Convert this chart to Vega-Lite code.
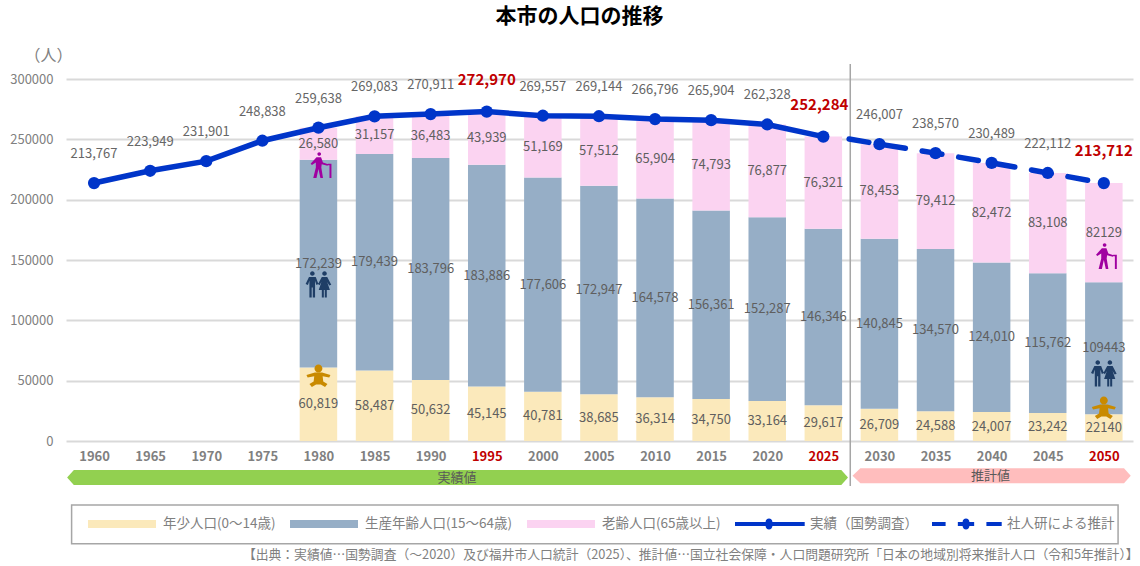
{
"$schema":"https://vega.github.io/schema/vega-lite/v6.json",
"autosize":{"type":"none"},
"padding":{"left":66,"top":79,"right":7,"bottom":125},
"width":1067,"height":362,
"background":"white",
"config":{"font":"Noto Sans CJK JP","view":{"stroke":null}},
"title":{"text":"本市の人口の推移","fontSize":21,"fontWeight":"bold","anchor":"middle","dx":-20,"offset":20,"color":"#000000"},
"datasets":{
"segments":[
{"year":1980,"series":"年少人口(0～14歳)","rank":1,"value":60819,"label":"60,819"},
{"year":1980,"series":"生産年齢人口(15～64歳)","rank":2,"value":172239,"label":"172,239"},
{"year":1980,"series":"老齢人口(65歳以上)","rank":3,"value":26580,"label":"26,580"},
{"year":1985,"series":"年少人口(0～14歳)","rank":1,"value":58487,"label":"58,487"},
{"year":1985,"series":"生産年齢人口(15～64歳)","rank":2,"value":179439,"label":"179,439"},
{"year":1985,"series":"老齢人口(65歳以上)","rank":3,"value":31157,"label":"31,157"},
{"year":1990,"series":"年少人口(0～14歳)","rank":1,"value":50632,"label":"50,632"},
{"year":1990,"series":"生産年齢人口(15～64歳)","rank":2,"value":183796,"label":"183,796"},
{"year":1990,"series":"老齢人口(65歳以上)","rank":3,"value":36483,"label":"36,483"},
{"year":1995,"series":"年少人口(0～14歳)","rank":1,"value":45145,"label":"45,145"},
{"year":1995,"series":"生産年齢人口(15～64歳)","rank":2,"value":183886,"label":"183,886"},
{"year":1995,"series":"老齢人口(65歳以上)","rank":3,"value":43939,"label":"43,939"},
{"year":2000,"series":"年少人口(0～14歳)","rank":1,"value":40781,"label":"40,781"},
{"year":2000,"series":"生産年齢人口(15～64歳)","rank":2,"value":177606,"label":"177,606"},
{"year":2000,"series":"老齢人口(65歳以上)","rank":3,"value":51169,"label":"51,169"},
{"year":2005,"series":"年少人口(0～14歳)","rank":1,"value":38685,"label":"38,685"},
{"year":2005,"series":"生産年齢人口(15～64歳)","rank":2,"value":172947,"label":"172,947"},
{"year":2005,"series":"老齢人口(65歳以上)","rank":3,"value":57512,"label":"57,512"},
{"year":2010,"series":"年少人口(0～14歳)","rank":1,"value":36314,"label":"36,314"},
{"year":2010,"series":"生産年齢人口(15～64歳)","rank":2,"value":164578,"label":"164,578"},
{"year":2010,"series":"老齢人口(65歳以上)","rank":3,"value":65904,"label":"65,904"},
{"year":2015,"series":"年少人口(0～14歳)","rank":1,"value":34750,"label":"34,750"},
{"year":2015,"series":"生産年齢人口(15～64歳)","rank":2,"value":156361,"label":"156,361"},
{"year":2015,"series":"老齢人口(65歳以上)","rank":3,"value":74793,"label":"74,793"},
{"year":2020,"series":"年少人口(0～14歳)","rank":1,"value":33164,"label":"33,164"},
{"year":2020,"series":"生産年齢人口(15～64歳)","rank":2,"value":152287,"label":"152,287"},
{"year":2020,"series":"老齢人口(65歳以上)","rank":3,"value":76877,"label":"76,877"},
{"year":2025,"series":"年少人口(0～14歳)","rank":1,"value":29617,"label":"29,617"},
{"year":2025,"series":"生産年齢人口(15～64歳)","rank":2,"value":146346,"label":"146,346"},
{"year":2025,"series":"老齢人口(65歳以上)","rank":3,"value":76321,"label":"76,321"},
{"year":2030,"series":"年少人口(0～14歳)","rank":1,"value":26709,"label":"26,709"},
{"year":2030,"series":"生産年齢人口(15～64歳)","rank":2,"value":140845,"label":"140,845"},
{"year":2030,"series":"老齢人口(65歳以上)","rank":3,"value":78453,"label":"78,453"},
{"year":2035,"series":"年少人口(0～14歳)","rank":1,"value":24588,"label":"24,588"},
{"year":2035,"series":"生産年齢人口(15～64歳)","rank":2,"value":134570,"label":"134,570"},
{"year":2035,"series":"老齢人口(65歳以上)","rank":3,"value":79412,"label":"79,412"},
{"year":2040,"series":"年少人口(0～14歳)","rank":1,"value":24007,"label":"24,007"},
{"year":2040,"series":"生産年齢人口(15～64歳)","rank":2,"value":124010,"label":"124,010"},
{"year":2040,"series":"老齢人口(65歳以上)","rank":3,"value":82472,"label":"82,472"},
{"year":2045,"series":"年少人口(0～14歳)","rank":1,"value":23242,"label":"23,242"},
{"year":2045,"series":"生産年齢人口(15～64歳)","rank":2,"value":115762,"label":"115,762"},
{"year":2045,"series":"老齢人口(65歳以上)","rank":3,"value":83108,"label":"83,108"},
{"year":2050,"series":"年少人口(0～14歳)","rank":1,"value":22140,"label":"22140"},
{"year":2050,"series":"生産年齢人口(15～64歳)","rank":2,"value":109443,"label":"109443"},
{"year":2050,"series":"老齢人口(65歳以上)","rank":3,"value":82129,"label":"82129"}
],
"totals":[
{"year":1960,"total":213767,"label":"213,767"},
{"year":1965,"total":223949,"label":"223,949"},
{"year":1970,"total":231901,"label":"231,901"},
{"year":1975,"total":248838,"label":"248,838"},
{"year":1980,"total":259638,"label":"259,638"},
{"year":1985,"total":269083,"label":"269,083"},
{"year":1990,"total":270911,"label":"270,911"},
{"year":1995,"total":272970,"label":"272,970"},
{"year":2000,"total":269557,"label":"269,557"},
{"year":2005,"total":269144,"label":"269,144"},
{"year":2010,"total":266796,"label":"266,796"},
{"year":2015,"total":265904,"label":"265,904"},
{"year":2020,"total":262328,"label":"262,328"},
{"year":2025,"total":252284,"label":"252,284"},
{"year":2027.3,"total":250280,"label":""},
{"year":2030,"total":246007,"label":"246,007"},
{"year":2035,"total":238570,"label":"238,570"},
{"year":2040,"total":230489,"label":"230,489"},
{"year":2045,"total":222112,"label":"222,112"},
{"year":2050,"total":213712,"label":"213,712"}
]
},
"encoding":{"x":{"field":"year","type":"quantitative","title":null,"scale":{"domain":[1957.5,2052.6],"nice":false,"zero":false,"padding":0},
"axis":{"values":[1960,1965,1970,1975,1980,1985,1990,1995,2000,2005,2010,2015,2020,2025,2030,2035,2040,2045,2050],"format":"d","grid":false,"domain":false,"ticks":false,"labelPadding":9,"labelFontSize":13,"labelFontWeight":"bold","labelOverlap":false,"labelFlush":false,"labelBound":false,
"labelColor":{"expr":"indexof([1995,2025,2050],datum.value)>=0?'#c00000':'#808080'"},
"encode":{"labels":{"update":{"dx":{"signal":"datum.value==1995?4:datum.value==2025?-3:datum.value==2050?-2:0"},"dy":{"signal":"indexof([1995,2025,2050],datum.value)>=0?-2:0"}}}}}}},
"layer":[
{"data":{"name":"segments"},
"transform":[{"stack":"value","groupby":["year"],"sort":[{"field":"rank","order":"ascending"}],"as":["s0","s1"]}],
"mark":{"type":"bar","size":37.5},
"encoding":{
"y":{"field":"s0","type":"quantitative","title":"（人）","scale":{"domain":[0,300000],"nice":false},
"axis":{"values":[0,50000,100000,150000,200000,250000,300000],"format":"d","grid":true,"gridColor":"#d9d9d9","gridWidth":2,"domain":false,"ticks":false,"labelPadding":13,"labelFontSize":13,"labelColor":"#808080","titleAngle":0,"titleX":-18,"titleY":-24,"titleFontSize":16,"titleFontWeight":"normal","titleColor":"#808080","titleAlign":"center","titleBaseline":"middle"}},
"y2":{"field":"s1"},
"color":{"field":"series","type":"nominal","scale":{"domain":["年少人口(0～14歳)","生産年齢人口(15～64歳)","老齢人口(65歳以上)","実績（国勢調査）","社人研による推計"],"range":["#fbe9bb","#96aec6","#fbd3f1","#0035c9","#0035c9"]},
"legend":{"title":null,"orient":"none","legendX":22,"legendY":437,"direction":"horizontal","columns":5,"gridAlign":"each","columnPadding":14,"symbolSize":4624,"symbolStrokeWidth":0,"labelOffset":7,"labelFontSize":13.5,"labelColor":"#808080","clipHeight":16,"labelLimit":300,"padding":0,
"encode":{"symbols":{"update":{"shape":{"signal":"datum.value=='実績（国勢調査）'?'M-1.05,-0.06H-0.1A0.1,0.1 0 0 1 0.1,-0.06H1.05V0.06H0.1A0.1,0.1 0 0 1 -0.1,0.06H-1.05Z':datum.value=='社人研による推計'?'M-1.05,-0.06H-0.6V0.06H-1.05ZM-0.24,-0.06H-0.1A0.1,0.1 0 0 1 0.1,-0.06H0.24V0.06H0.1A0.1,0.1 0 0 1 -0.1,0.06H-0.24ZM0.6,-0.06H1.05V0.06H0.6Z':'M-1,-0.118H1V0.118H-1Z'"},"fill":{"scale":"color","field":"value"},"stroke":{"value":"transparent"}}}}}}
}},
{"data":{"values":[{"year":1958.0,"top":-53039,"bot":-85110,"x2year":2051.27}]},
"mark":{"type":"rect","fill":null,"stroke":"#a6a6a6","strokeWidth":1.5},
"encoding":{"x2":{"field":"x2year"},"y":{"field":"top","type":"quantitative","title":"（人）","scale":{"domain":[0,300000],"nice":false}},"y2":{"field":"bot"}}},
{"data":{"values":[{"year":1957.6,"top":-30249,"bot":-30249},{"year":1958.2,"top":-24033,"bot":-36464},{"year":2026.6,"top":-24033,"bot":-36464},{"year":2027.2,"top":-30249,"bot":-30249}]},
"mark":{"type":"area","color":"#92d050","orient":"vertical"},
"encoding":{"y":{"field":"top","type":"quantitative","title":"（人）","scale":{"domain":[0,300000],"nice":false}},"y2":{"field":"bot"}}},
{"data":{"values":[{"year":2027.6,"top":-28840,"bot":-28840},{"year":2028.3,"top":-22600,"bot":-35050},{"year":2051.8,"top":-22600,"bot":-35050},{"year":2052.4,"top":-28840,"bot":-28840}]},
"mark":{"type":"area","color":"#ffbdbd","orient":"vertical"},
"encoding":{"y":{"field":"top","type":"quantitative","title":"（人）","scale":{"domain":[0,300000],"nice":false}},"y2":{"field":"bot"}}},
{"data":{"values":[{"year":2027.4,"top":312431,"bot":-37300}]},
"mark":{"type":"rule","color":"#a6a6a6","strokeWidth":1.5},
"encoding":{"y":{"field":"top","type":"quantitative","title":"（人）","scale":{"domain":[0,300000],"nice":false}},"y2":{"field":"bot"}}},
{"data":{"name":"totals"},"transform":[{"filter":"datum.year<=2025"}],
"mark":{"type":"line","color":"#0035c9","strokeWidth":5.5},
"encoding":{"y":{"field":"total","type":"quantitative","title":"（人）","scale":{"domain":[0,300000],"nice":false}}}},
{"data":{"name":"totals"},"transform":[{"filter":"datum.year>2026"}],
"mark":{"type":"line","color":"#0035c9","strokeWidth":5.5,"strokeDash":[20,17],"strokeCap":"round"},
"encoding":{"y":{"field":"total","type":"quantitative","title":"（人）","scale":{"domain":[0,300000],"nice":false}}}},
{"data":{"name":"totals"},"transform":[{"filter":"datum.label!=''"}],
"mark":{"type":"point","filled":true,"color":"#0035c9","opacity":1,"size":150},
"encoding":{"y":{"field":"total","type":"quantitative","title":"（人）","scale":{"domain":[0,300000],"nice":false}}}},
{"data":{"name":"segments"},
"transform":[{"stack":"value","groupby":["year"],"sort":[{"field":"rank","order":"ascending"}],"as":["s0","s1"]},{"fold":["s0","s1"],"as":["edge","edgeValue"]},{"aggregate":[{"op":"mean","field":"edgeValue","as":"mid"}],"groupby":["year","label"]}],
"mark":{"type":"text","fontSize":13,"color":"#5f5f5f","baseline":"middle"},
"encoding":{"y":{"field":"mid","type":"quantitative","title":"（人）","scale":{"domain":[0,300000],"nice":false}},"text":{"field":"label"}}},
{"data":{"name":"totals"},"transform":[{"filter":"datum.label!='' && indexof([1995,2025,2050],datum.year)<0"}],
"mark":{"type":"text","fontSize":13,"color":"#666666","baseline":"middle","dy":-29},
"encoding":{"y":{"field":"total","type":"quantitative","title":"（人）","scale":{"domain":[0,300000],"nice":false}},"text":{"field":"label"}}},
{"data":{"name":"totals"},"transform":[{"filter":"datum.year==1995||datum.year==2050"}],
"mark":{"type":"text","fontSize":15,"fontWeight":"bold","color":"#c00000","baseline":"middle","dy":-32},
"encoding":{"y":{"field":"total","type":"quantitative","title":"（人）","scale":{"domain":[0,300000],"nice":false}},"text":{"field":"label"}}},
{"data":{"name":"totals"},"transform":[{"filter":"datum.year==2025"}],
"mark":{"type":"text","fontSize":15,"fontWeight":"bold","color":"#c00000","baseline":"middle","dy":-32,"dx":-4},
"encoding":{"y":{"field":"total","type":"quantitative","title":"（人）","scale":{"domain":[0,300000],"nice":false}},"text":{"field":"label"}}},
{"data":{"values":[{"year":1992.35,"pos":-31000,"note":"実績値"},{"year":2039.9,"pos":-29000,"note":"推計値"}]},
"mark":{"type":"text","fontSize":13,"color":"#595959","baseline":"middle"},
"encoding":{"y":{"field":"pos","type":"quantitative","title":"（人）","scale":{"domain":[0,300000],"nice":false}},"text":{"field":"note"}}},
{"data":{"values":[{"year":2053.1,"pos":-94470,"note":"【出典：実績値…国勢調査（～2020）及び福井市人口統計（2025）、推計値…国立社会保障・人口問題研究所「日本の地域別将来推計人口（令和5年推計）】"}]},
"mark":{"type":"text","fontSize":12.8,"color":"#808080","baseline":"middle","align":"right"},
"encoding":{"y":{"field":"pos","type":"quantitative","title":"（人）","scale":{"domain":[0,300000],"nice":false}},"text":{"field":"note"}}},
{"data":{"values":[{"year":1980,"pos":228729},{"year":2050,"pos":153315}]},
"mark":{"type":"point","filled":true,"opacity":1,"color":"#a000a0","size":676,"shape":"M0.2,-0.85A0.14,0.14 0 1 1 -0.08,-0.85A0.14,0.14 0 1 1 0.2,-0.85ZM-0.15,-0.6L0.2,-0.6L0.35,-0.2L0.75,-0.05L0.7,0.05L0.25,-0.05L0.22,0.2L0.35,1L0.15,1L0,0.3L-0.15,1L-0.4,1L-0.2,0.2L-0.2,-0.2L-0.5,0L-0.6,-0.1ZM0.72,-0.1L1,-0.1L1,1L0.85,1L0.85,0.02L0.72,0.02Z"},
"encoding":{"y":{"field":"pos","type":"quantitative","title":"（人）","scale":{"domain":[0,300000],"nice":false}}}},
{"data":{"values":[{"year":1980,"pos":130110},{"year":2050,"pos":56354}]},
"mark":{"type":"point","filled":true,"opacity":1,"color":"#1f3e66","size":729,"shape":"M-0.28,-0.78A0.17,0.17 0 1 1 -0.62,-0.78A0.17,0.17 0 1 1 -0.28,-0.78ZM-0.7,-0.52H-0.2L0,0L-0.15,0.08L-0.25,-0.25V1H-0.42V0.25H-0.5V1H-0.67V-0.25L-0.78,0.08L-0.95,0ZM0.62,-0.78A0.17,0.17 0 1 1 0.28,-0.78A0.17,0.17 0 1 1 0.62,-0.78ZM0.25,-0.52H0.65L0.95,0.05L0.8,0.12L0.65,-0.15L0.85,0.45H0.62V1H0.47V0.45H0.4V1H0.25V0.45H0.02L0.22,-0.15L0.08,0.1L-0.03,0Z"},
"encoding":{"y":{"field":"pos","type":"quantitative","title":"（人）","scale":{"domain":[0,300000],"nice":false}}}},
{"data":{"values":[{"year":1980,"pos":54696},{"year":2050,"pos":28177}]},
"mark":{"type":"point","filled":true,"opacity":1,"color":"#c98a00","size":576,"shape":"M0.33,-0.55A0.33,0.33 0 1 1 -0.33,-0.55A0.33,0.33 0 1 1 0.33,-0.55ZM-0.3,-0.2H0.3L1,0L0.9,0.2L0.35,0.1L0.4,0.55L0.75,0.75L0.55,1L0.2,0.8H-0.2L-0.55,1L-0.75,0.75L-0.4,0.55L-0.35,0.1L-0.9,0.2L-1,0Z"},
"encoding":{"y":{"field":"pos","type":"quantitative","title":"（人）","scale":{"domain":[0,300000],"nice":false}}}}
]
}
